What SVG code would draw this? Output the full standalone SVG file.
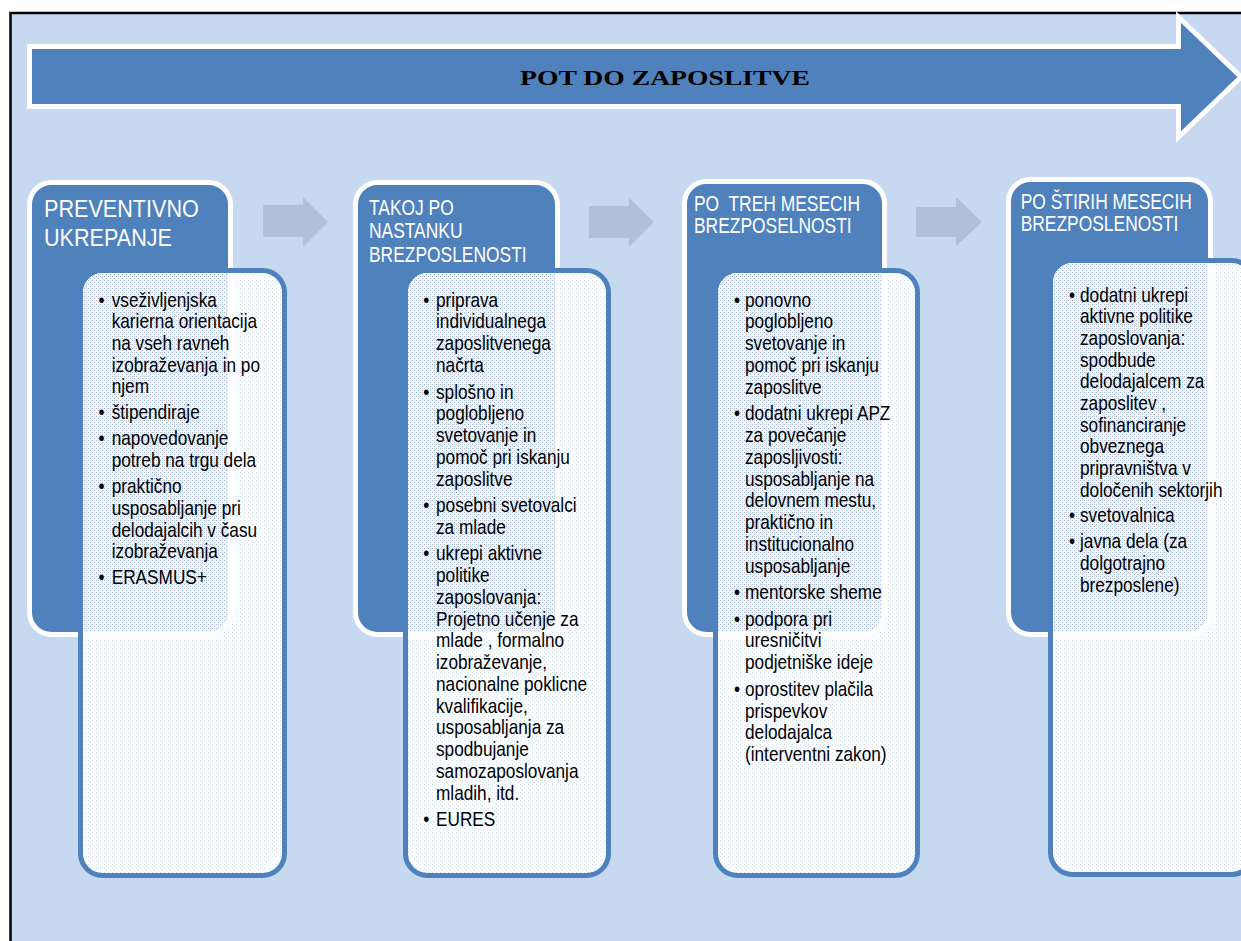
<svg xmlns="http://www.w3.org/2000/svg" width="1241" height="941" viewBox="0 0 1241 941">
<defs>
<style>
.hdr{fill:#4F81BD;stroke:#FFFFFF;stroke-width:5}
.box{fill:url(#light);stroke:#4F81BD;stroke-width:5}
.ovl{fill:url(#dense);stroke:#FFFFFF;stroke-width:5}
.ht{font-family:"Liberation Sans",Arial,sans-serif;font-size:21.5px;fill:#FFFFFF}
.ht1{font-family:"Liberation Sans",Arial,sans-serif;font-size:24px;fill:#FFFFFF}
.bt{font-family:"Liberation Sans",Arial,sans-serif;font-size:21px;fill:#000000}
.title{font-family:"Liberation Serif","Times New Roman",serif;font-weight:bold;font-size:22px;fill:#000000}
.conn{fill:#AFC0DB}
</style>
<pattern id="light" width="4" height="4" patternUnits="userSpaceOnUse">
<rect width="4" height="4" fill="#FFFFFF"/>
<rect width="1" height="1" fill="#D3DEEC"/>
<rect x="2" y="2" width="1" height="1" fill="#E3EAF4"/>
</pattern>
<pattern id="dense" width="4" height="4" patternUnits="userSpaceOnUse">
<rect width="4" height="4" fill="#F1F4F9"/>
<rect width="1" height="1" fill="#A9B9D1"/>
<rect x="2" y="2" width="1" height="1" fill="#A9B9D1"/>
<rect x="2" y="0" width="1" height="1" fill="#D0DAE8"/>
</pattern>
<clipPath id="c1"><rect x="83" y="273" width="199" height="600" rx="19.5"/></clipPath>
<clipPath id="c2"><rect x="408" y="273" width="198" height="600" rx="19.5"/></clipPath>
<clipPath id="c3"><rect x="718" y="273" width="197" height="600" rx="19.5"/></clipPath>
<clipPath id="c4"><rect x="1053" y="263" width="198" height="609.5" rx="19.5"/></clipPath>
</defs>

<rect x="0" y="0" width="1241" height="941" fill="#FFFFFF"/>
<rect id="frame" x="10.5" y="13" width="1250" height="950" fill="#C6D9F1" stroke="#000000" stroke-width="2.5"/>

<g id="pot-do-zaposlitve">
<polygon points="29.5,46.5 1178.5,46.5 1178.5,17 1241,77 1178.5,137 1178.5,106.5 29.5,106.5" fill="#4F81BD" stroke="#FFFFFF" stroke-width="5"/>
<text class="title" x="520" y="85" textLength="290" lengthAdjust="spacingAndGlyphs">POT DO ZAPOSLITVE</text>
</g>

<g id="preventivno-ukrepanje">
<rect class="hdr" x="29.5" y="182.5" width="201" height="452" rx="22"/>
<g class="ht1" transform="translate(44,0) scale(0.9,1)">
<text x="0" y="217">PREVENTIVNO</text>
<text x="0" y="246">UKREPANJE</text>
</g>
<rect class="box" x="80.5" y="270.5" width="204" height="605" rx="22"/>
<rect class="ovl" x="29.5" y="182.5" width="201" height="452" rx="22" clip-path="url(#c1)"/>
<g class="bt" transform="translate(111.7,0) scale(0.82,1)">
<text><tspan x="-16" y="306.7">•</tspan><tspan x="0" y="306.7">vseživljenjska</tspan><tspan x="0" y="328.4">karierna orientacija</tspan><tspan x="0" y="350.1">na vseh ravneh</tspan><tspan x="0" y="371.8">izobraževanja in po</tspan><tspan x="0" y="393.5">njem</tspan></text>
<text><tspan x="-16" y="419.5">•</tspan><tspan x="0" y="419.5">štipendiraje</tspan></text>
<text><tspan x="-16" y="445.5">•</tspan><tspan x="0" y="445.5">napovedovanje</tspan><tspan x="0" y="467.2">potreb na trgu dela</tspan></text>
<text><tspan x="-16" y="493.2">•</tspan><tspan x="0" y="493.2">praktično</tspan><tspan x="0" y="514.9">usposabljanje pri</tspan><tspan x="0" y="536.6">delodajalcih v času</tspan><tspan x="0" y="558.3">izobraževanja</tspan></text>
<text><tspan x="-16" y="584.3">•</tspan><tspan x="0" y="584.3">ERASMUS+</tspan></text>
</g>
</g>

<g id="takoj-po-nastanku">
<rect class="hdr" x="355.5" y="182.5" width="202" height="452" rx="22"/>
<g class="ht" transform="translate(369,0) scale(0.81,1)">
<text x="0" y="215">TAKOJ PO</text>
<text x="0" y="238.3">NASTANKU</text>
<text x="0" y="261.7">BREZPOSLENOSTI</text>
</g>
<rect class="box" x="405.5" y="270.5" width="203" height="605" rx="22"/>
<rect class="ovl" x="355.5" y="182.5" width="202" height="452" rx="22" clip-path="url(#c2)"/>
<g class="bt" transform="translate(436,0) scale(0.82,1)">
<text><tspan x="-15.7" y="306.7">•</tspan><tspan x="0" y="306.7">priprava</tspan><tspan x="0" y="328.45">individualnega</tspan><tspan x="0" y="350.2">zaposlitvenega</tspan><tspan x="0" y="371.95">načrta</tspan></text>
<text><tspan x="-15.7" y="398.55">•</tspan><tspan x="0" y="398.55">splošno in</tspan><tspan x="0" y="420.3">poglobljeno</tspan><tspan x="0" y="442.05">svetovanje in</tspan><tspan x="0" y="463.8">pomoč pri iskanju</tspan><tspan x="0" y="485.55">zaposlitve</tspan></text>
<text><tspan x="-15.7" y="512.15">•</tspan><tspan x="0" y="512.15">posebni svetovalci</tspan><tspan x="0" y="533.9">za mlade</tspan></text>
<text><tspan x="-15.7" y="560.5">•</tspan><tspan x="0" y="560.5">ukrepi aktivne</tspan><tspan x="0" y="582.25">politike</tspan><tspan x="0" y="604">zaposlovanja:</tspan><tspan x="0" y="625.75">Projetno učenje za</tspan><tspan x="0" y="647.5">mlade , formalno</tspan><tspan x="0" y="669.25">izobraževanje,</tspan><tspan x="0" y="691">nacionalne poklicne</tspan><tspan x="0" y="712.75">kvalifikacije,</tspan><tspan x="0" y="734.5">usposabljanja za</tspan><tspan x="0" y="756.25">spodbujanje</tspan><tspan x="0" y="778">samozaposlovanja</tspan><tspan x="0" y="799.75">mladih, itd.</tspan></text>
<text><tspan x="-15.7" y="826.35">•</tspan><tspan x="0" y="826.35">EURES</tspan></text>
</g>
</g>

<g id="po-treh-mesecih">
<rect class="hdr" x="684.5" y="181.5" width="200" height="453" rx="22"/>
<g class="ht" transform="translate(694,0) scale(0.81,1)">
<text x="0" y="210.7" xml:space="preserve">PO  TREH MESECIH</text>
<text x="0" y="232.7">BREZPOSELNOSTI</text>
</g>
<rect class="box" x="715.5" y="270.5" width="202" height="605" rx="22"/>
<rect class="ovl" x="684.5" y="181.5" width="200" height="453" rx="22" clip-path="url(#c3)"/>
<g class="bt" transform="translate(745,0) scale(0.82,1)">
<text><tspan x="-13.3" y="306.7">•</tspan><tspan x="0" y="306.7">ponovno</tspan><tspan x="0" y="328.45">poglobljeno</tspan><tspan x="0" y="350.2">svetovanje in</tspan><tspan x="0" y="371.95">pomoč pri iskanju</tspan><tspan x="0" y="393.7">zaposlitve</tspan></text>
<text><tspan x="-13.3" y="420.3">•</tspan><tspan x="0" y="420.3">dodatni ukrepi APZ</tspan><tspan x="0" y="442.05">za povečanje</tspan><tspan x="0" y="463.8">zaposljivosti:</tspan><tspan x="0" y="485.55">usposabljanje na</tspan><tspan x="0" y="507.3">delovnem mestu,</tspan><tspan x="0" y="529.05">praktično in</tspan><tspan x="0" y="550.8">institucionalno</tspan><tspan x="0" y="572.55">usposabljanje</tspan></text>
<text><tspan x="-13.3" y="599.15">•</tspan><tspan x="0" y="599.15">mentorske sheme</tspan></text>
<text><tspan x="-13.3" y="625.75">•</tspan><tspan x="0" y="625.75">podpora pri</tspan><tspan x="0" y="647.5">uresničitvi</tspan><tspan x="0" y="669.25">podjetniške ideje</tspan></text>
<text><tspan x="-13.3" y="695.85">•</tspan><tspan x="0" y="695.85">oprostitev plačila</tspan><tspan x="0" y="717.6">prispevkov</tspan><tspan x="0" y="739.35">delodajalca</tspan><tspan x="0" y="761.1">(interventni zakon)</tspan></text>
</g>
</g>

<g id="po-stirih-mesecih">
<rect class="hdr" x="1008.5" y="179.5" width="202" height="455" rx="22"/>
<g class="ht" transform="translate(1020.7,0) scale(0.81,1)">
<text x="0" y="209.5">PO ŠTIRIH MESECIH</text>
<text x="0" y="231.5">BREZPOSLENOSTI</text>
</g>
<rect class="box" x="1050.5" y="260.5" width="203" height="614" rx="22"/>
<rect class="ovl" x="1008.5" y="179.5" width="202" height="455" rx="22" clip-path="url(#c4)"/>
<g class="bt" transform="translate(1080,0) scale(0.82,1)">
<text><tspan x="-13.3" y="301.7">•</tspan><tspan x="0" y="301.7">dodatni ukrepi</tspan><tspan x="0" y="323.37">aktivne politike</tspan><tspan x="0" y="345.04">zaposlovanja:</tspan><tspan x="0" y="366.71">spodbude</tspan><tspan x="0" y="388.38">delodajalcem za</tspan><tspan x="0" y="410.05">zaposlitev ,</tspan><tspan x="0" y="431.72">sofinanciranje</tspan><tspan x="0" y="453.39">obveznega</tspan><tspan x="0" y="475.06">pripravništva v</tspan><tspan x="0" y="496.73">določenih sektorjih</tspan></text>
<text><tspan x="-13.3" y="522.5">•</tspan><tspan x="0" y="522.5">svetovalnica</tspan></text>
<text><tspan x="-13.3" y="548.3">•</tspan><tspan x="0" y="548.3">javna dela (za</tspan><tspan x="0" y="569.97">dolgotrajno</tspan><tspan x="0" y="591.64">brezposlene)</tspan></text>
</g>
</g>

<g id="connectors">
<polygon class="conn" points="263,205 303,205 303,197 328,222 303,247 303,237 263,237"/>
<polygon class="conn" points="589,206 629,206 629,198 654,222 629,247 629,238 589,238"/>
<polygon class="conn" points="916,207 956,207 956,197 982,222 956,246 956,237 916,237"/>
</g>
</svg>
